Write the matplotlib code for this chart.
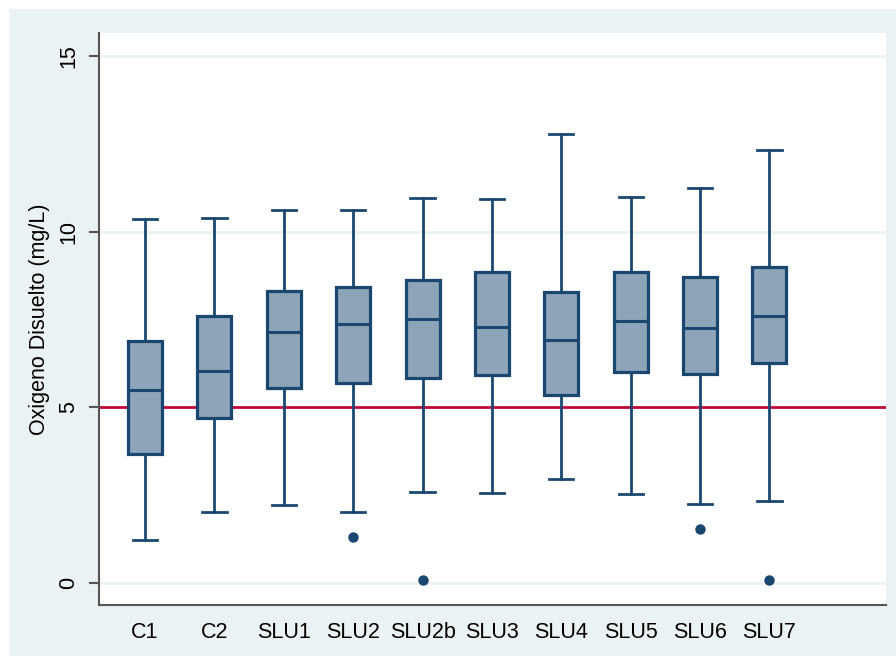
import matplotlib
matplotlib.use("Agg")
import matplotlib.pyplot as plt
from matplotlib.patches import Rectangle

plt.rcParams['font.family'] = ['Liberation Sans', 'DejaVu Sans']

# sitios de muestreo
sites = ['C1', 'C2', 'SLU1', 'SLU2', 'SLU2b', 'SLU3', 'SLU4', 'SLU5', 'SLU6', 'SLU7']

# estadisticos (mg/L)
whis_lo = [1.23, 2.01, 2.23, 2.01, 2.58, 2.55, 2.95, 2.52, 2.24, 2.34]
q1      = [3.67, 4.70, 5.55, 5.69, 5.84, 5.92, 5.34, 6.01, 5.94, 6.25]
median  = [5.49, 6.02, 7.15, 7.36, 7.51, 7.29, 6.91, 7.47, 7.26, 7.61]
q3      = [6.89, 7.61, 8.32, 8.42, 8.63, 8.84, 8.27, 8.84, 8.71, 9.00]
whis_hi = [10.36, 10.40, 10.61, 10.61, 10.96, 10.93, 12.77, 11.00, 11.25, 12.32]
outliers = [[], [], [], [1.32], [0.09], [], [], [], [1.53], [0.09]]

limite = 5  # norma oxigeno disuelto

navy = '#1A476F'
fill = '#8EA4B8'
bg = '#EAF2F3'

fig = plt.figure(figsize=(8.96, 6.56), dpi=100, facecolor='white')
fig.patches.append(Rectangle((9 / 896, 0), 1, 1 - 9 / 656, transform=fig.transFigure,
                             facecolor=bg, edgecolor='none', zorder=-5))
ax = fig.add_axes([99 / 896, 1 - 605 / 656, (886 - 99) / 896, (605 - 33) / 656])

stats = []
for i in range(len(sites)):
    stats.append(dict(label=sites[i], whislo=whis_lo[i], q1=q1[i], med=median[i],
                      q3=q3[i], whishi=whis_hi[i], fliers=outliers[i]))

pos = list(range(1, len(sites) + 1))
for y in [0, 10, 15]:
    ax.axhline(y, color=bg, lw=2, zorder=0)
ax.axhline(limite, color='#C10534', lw=2, zorder=1)

ax.bxp(stats, positions=pos, widths=0.49, capwidths=0.35, patch_artist=True,
       boxprops=dict(facecolor=fill, edgecolor=navy, linewidth=2.3),
       medianprops=dict(color=navy, linewidth=2.2),
       whiskerprops=dict(color=navy, linewidth=2),
       capprops=dict(color=navy, linewidth=2),
       flierprops=dict(marker='o', markerfacecolor=navy, markeredgecolor=navy, markersize=6.5),
       zorder=2)

ax.set_xlim(0.337, 11.68)
ax.set_ylim(-0.63, 15.66)
ax.set_yticks([0, 5, 10, 15])
ax.set_yticklabels(['0', '5', '10', '15'], rotation=90, va='center', fontsize=15.5)
ax.set_xticks(pos)
ax.set_xticklabels(sites, fontsize=15.5)
ax.tick_params(axis='x', length=0, pad=12)
ax.tick_params(axis='y', length=7, width=1.5, color='#555555', pad=7)
ax.set_ylabel('Oxigeno Disuelto (mg/L)', fontsize=15.5, labelpad=6)

for s in ['top', 'right']:
    ax.spines[s].set_visible(False)
for s in ['left', 'bottom']:
    ax.spines[s].set_color('#555555')
    ax.spines[s].set_linewidth(1.5)

fig.savefig('out.png', dpi=100, facecolor=fig.get_facecolor())
